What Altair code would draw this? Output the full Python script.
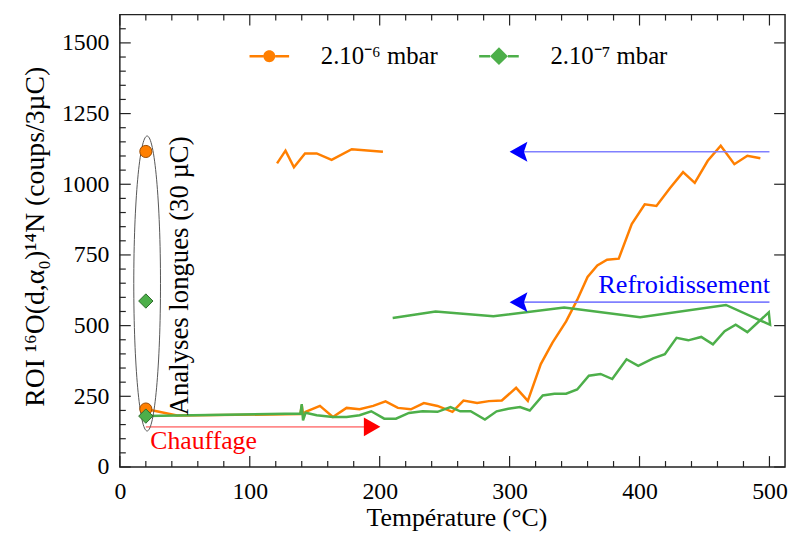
import altair as alt
import pandas as pd

# ---------------- data ----------------
S_HI = "2.10⁻⁶ mbar"
S_LO = "2.10⁻⁷ mbar"
ORANGE = "#FF7F00"
GREEN = "#4DAF4A"
FONT = "Liberation Serif"
FRAME = "#222222"

# 2.10-6 mbar, heating
o_heat_T = [20, 44, 139, 140, 141, 143, 154, 164, 174.5, 184.5, 195, 204.5, 214, 224, 234, 244.5, 256, 264.5,
            275, 284, 294, 305, 314, 324, 333, 343.5, 352, 360, 367.5, 375, 384, 394, 404, 413, 423.5, 433.5,
            442.5, 452.5, 462.5, 473, 483, 493]
o_heat_v = [205, 182, 187, 218, 186, 195, 216, 177, 209, 204, 216, 232, 209, 204, 226, 216, 195, 235,
            226, 233, 235, 280, 234, 364, 440, 515, 591, 672, 713, 733, 737, 859, 929, 923, 987, 1043,
            1005, 1083, 1136, 1071, 1101, 1092]
# 2.10-6 mbar, cooling
o_cool_T = [202.5, 178.5, 163, 151.5, 142.5, 134, 127.5, 121]
o_cool_v = [1115, 1124, 1086, 1109, 1109, 1060, 1119, 1074]
# 2.10-7 mbar, heating then cooling
g_T = [20, 139, 140, 141, 143, 151.5, 164, 174.5, 184.5, 193.5, 203.5, 212.5, 222.5, 233, 244.5, 254.5, 262,
       270, 281, 290, 299, 308, 315.5, 325.5, 334.5, 343.5, 352, 361, 370, 379, 390, 399, 410.5, 419.5, 428.5,
       437.5, 447.5, 456.5, 465.5, 474, 483, 499.5, 500.5, 466.5, 400.5, 342, 287.5, 243, 210]
g_v = [180, 189, 222, 165, 192, 183, 177, 177, 183, 197, 171, 171, 191, 197, 195, 212, 197,
       197, 168, 197, 206, 212, 200, 253, 259, 259, 274, 323, 329, 311, 381, 358, 384, 399, 457,
       448, 460, 434, 480, 503, 477, 547, 503, 573, 530, 564, 533, 550, 527]

# long analyses (30 uC)
mk_T = [20, 20, 20, 20]
mk_v = [205, 1116, 180, 587]
mk_s = [S_HI, S_HI, S_LO, S_LO]

# ellipse around long analyses
ell_T = [21]
ell_v = [649]

# arrows
arr_x1 = [20, 500, 500]
arr_x2 = [196, 306, 306]
arr_y = [142, 1115, 583]
arr_col = ["#FF8A8A", "#8080FF", "#8080FF"]
head_T = [200.5, 300, 300]
head_v = [142, 1115, 583]

# axis ticks
x_major = [0, 100, 200, 300, 400, 500]
x_minor = [t for t in range(20, 501, 20) if t % 100 != 0]
y_major = [0, 250, 500, 750, 1000, 1250, 1500]
y_minor = [t for t in range(50, 1600, 50) if t % 250 != 0]

# ---------------- chart ----------------
W, H = 672, 457
xscale = alt.Scale(domain=[0, 512], nice=False, zero=False)
yscale = alt.Scale(domain=[0, 1600], nice=False, zero=False)

rows = []
for i, (t, v) in enumerate(zip(o_heat_T, o_heat_v)):
    rows.append({"T": t, "v": v, "series": S_HI, "seg": "o1", "i": i})
for i, (t, v) in enumerate(zip(o_cool_T, o_cool_v)):
    rows.append({"T": t, "v": v, "series": S_HI, "seg": "o2", "i": i})
for i, (t, v) in enumerate(zip(g_T, g_v)):
    rows.append({"T": t, "v": v, "series": S_LO, "seg": "g1", "i": i})
lines_df = pd.DataFrame(rows)

x_axis = alt.Axis(values=x_major, tickSize=0, domain=False, grid=False, labelFont=FONT, labelFontSize=24,
                  labelColor="black", labelPadding=32, labelBaseline="alphabetic", labelFlush=False,
                  title="Température (°C)", titleFont=FONT, titleFontSize=26, titleFontWeight="normal",
                  titleColor="black", titleX=340, titleY=59, titleBaseline="alphabetic", titleAlign="center")
y_axis = alt.Axis(values=y_major, format="d", tickSize=0, domain=False, grid=False, labelFont=FONT,
                  labelFontSize=24, labelColor="black", labelPadding=11, labelFlush=False,
                  title="ROI ¹⁶O(d,α₀)¹⁴N (coups/3µC)", titleFont=FONT, titleFontSize=28,
                  titleFontWeight="normal", titleColor="black", titleAngle=270, titleX=-77, titleY=224,
                  titleBaseline="alphabetic", titleAlign="center")


def X(field):
    return alt.X(field, scale=xscale, axis=x_axis)


def Y(field):
    return alt.Y(field, scale=yscale, axis=y_axis)


lines = alt.Chart(lines_df).mark_line(strokeWidth=2.5).encode(
    x=X("T:Q"), y=Y("v:Q"),
    color=alt.Color("series:N", scale=alt.Scale(domain=[S_HI, S_LO], range=[ORANGE, GREEN]), legend=None),
    detail="seg:N",
    order="i:Q",
)

mk_df = pd.DataFrame({"T": mk_T, "v": mk_v, "series": mk_s})
pts_o = alt.Chart(mk_df).transform_filter(alt.datum.series == S_HI).mark_point(
    shape="circle", filled=True, fill=ORANGE, stroke="#9A4A00", strokeWidth=1, size=150, opacity=1).encode(
    x=X("T:Q"), y=Y("v:Q"))
pts_g = alt.Chart(mk_df).transform_filter(alt.datum.series == S_LO).mark_point(
    shape="diamond", filled=True, fill=GREEN, stroke="#2E6B2C", strokeWidth=1, size=210, opacity=1).encode(
    x=X("T:Q"), y=Y("v:Q"))

a = 0.0906
k = 0.5523
ELLIPSE = (f"M0,-1C{k*a:.4f},-1 {a:.4f},-{k} {a:.4f},0C{a:.4f},{k} {k*a:.4f},1 0,1"
           f"C-{k*a:.4f},1 -{a:.4f},{k} -{a:.4f},0C-{a:.4f},-{k} -{k*a:.4f},-1 0,-1Z")
ellipse = alt.Chart(pd.DataFrame({"T": ell_T, "v": ell_v})).mark_point(
    shape=ELLIPSE, filled=False, stroke="#555555", strokeWidth=1, size=298 * 298, opacity=1).encode(
    x=X("T:Q"), y=Y("v:Q"))

arr_df = pd.DataFrame({"x1": arr_x1, "x2": arr_x2, "y": arr_y, "c": arr_col})
arrows = alt.Chart(arr_df).mark_rule(strokeWidth=1.6).encode(
    x=X("x1:Q"), x2="x2:Q", y=Y("y:Q"),
    color=alt.Color("c:N", scale=None))

head_df = pd.DataFrame({"T": head_T, "v": head_v, "k": ["r", "b", "b"]})
HEAD_R = "M0,0L-1.75,-1L-1.75,1Z"
HEAD_L = "M0,0L1.8,-1L1.45,0L1.8,1Z"
head_r = alt.Chart(head_df).transform_filter(alt.datum.k == "r").mark_point(
    shape=HEAD_R, filled=True, fill="#FF0000", strokeWidth=0, size=361, opacity=1).encode(
    x=X("T:Q"), y=Y("v:Q"))
head_b = alt.Chart(head_df).transform_filter(alt.datum.k == "b").mark_point(
    shape=HEAD_L, filled=True, fill="#0000FF", strokeWidth=0, size=400, opacity=1).encode(
    x=X("T:Q"), y=Y("v:Q"))


def text_layer(txt, t, v, color, align, angle=0, size=26):
    return alt.Chart(pd.DataFrame({"T": [t], "v": [v], "txt": [txt]})).mark_text(
        font=FONT, fontSize=size, color=color, align=align, baseline="alphabetic", angle=angle).encode(
        x=X("T:Q"), y=Y("v:Q"), text="txt:N")


t_heat = text_layer("Chauffage", 23.4, 63, "#FF0000", "left")
t_cool = text_layer("Refroidissement", 500.5, 614, "#0000FF", "right", size=26.5)
t_long = text_layer("Analyses longues (30 µC)", 52.6, 676, "black", "center", 270, size=27)


def rules_x(vals, y1, y2):
    return alt.Chart(pd.DataFrame({"T": vals})).mark_rule(color=FRAME, strokeWidth=1.2).encode(
        x=X("T:Q"), y=alt.value(y1), y2=alt.value(y2))


def rules_y(vals, x1, x2):
    return alt.Chart(pd.DataFrame({"v": vals})).mark_rule(color=FRAME, strokeWidth=1.2).encode(
        y=Y("v:Q"), x=alt.value(x1), x2=alt.value(x2))


ticks = [
    rules_x(x_major, H, H - 11), rules_x(x_minor, H, H - 6),
    rules_x(x_major, 0, 11), rules_x(x_minor, 0, 6),
    rules_y(y_major, 0, 11), rules_y(y_minor, 0, 6),
    rules_y(y_major, W, W - 11),
]

# legend symbols: filled paths (bar segments + marker)
LEG_CIRCLE = ("M-1,-0.0625L-0.3,-0.0625L-0.3,0.0625L-1,0.0625Z"
              "M0.3,-0.0625L1,-0.0625L1,0.0625L0.3,0.0625Z"
              "M0.3,0C0.3,0.166 0.166,0.3 0,0.3C-0.166,0.3 -0.3,0.166 -0.3,0"
              "C-0.3,-0.166 -0.166,-0.3 0,-0.3C0.166,-0.3 0.3,-0.166 0.3,0Z")
LEG_DIAMOND = ("M-1,-0.0625L-0.45,-0.0625L-0.45,0.0625L-1,0.0625Z"
               "M0.45,-0.0625L1,-0.0625L1,0.0625L0.45,0.0625Z"
               "M-0.45,0L0,-0.45L0.45,0L0,0.45Z")


def legend_layer(name, color, path, lx):
    return alt.Chart(pd.DataFrame({"series": [name], "T": [0], "v": [0]})).transform_filter("false").mark_point(
        filled=True, fill=color, strokeWidth=0, opacity=1, size=1600).encode(
        x=X("T:Q"), y=Y("v:Q"),
        shape=alt.Shape("series:N", scale=alt.Scale(domain=[name], range=[path]),
                        legend=alt.Legend(orient="none", legendX=lx, legendY=22, title=None,
                                          direction="horizontal", labelFont=FONT, labelFontSize=25,
                                          labelColor="black", symbolSize=1600, symbolStrokeWidth=0,
                                          symbolFillColor=color,
                                          labelOffset=32, padding=0, symbolOpacity=1)))


leg1 = legend_layer(S_HI, ORANGE, LEG_CIRCLE, 131)
leg2 = legend_layer(S_LO, GREEN, LEG_DIAMOND, 363)

chart = alt.layer(
    lines, *ticks, arrows, head_r, head_b, ellipse, pts_o, pts_g, t_heat, t_cool, t_long, leg1, leg2
).resolve_scale(shape="independent").properties(
    width=W, height=H,
    padding={"left": 113, "top": 4, "right": 4, "bottom": 64},
    autosize=alt.AutoSizeParams(type="none"),
    background="white",
).configure_view(stroke=FRAME, strokeWidth=1.5)

chart.save("out.html", embed_options={"renderer": "svg", "actions": False})
